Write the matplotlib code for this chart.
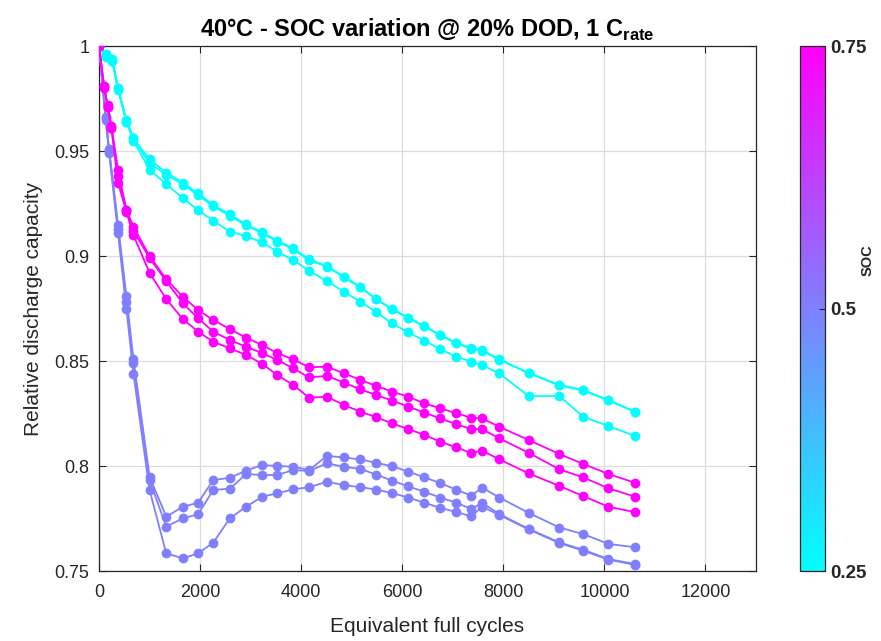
import matplotlib
matplotlib.use("Agg")
import matplotlib.pyplot as plt
import matplotlib.colors as mcolors
import numpy as np

plt.rcParams['font.family'] = ['Liberation Sans', 'DejaVu Sans']

# ciclos equivalentes (parte comum a todas as curvas)
cycles_tail = [1000, 1330, 1660, 1960, 2260, 2590, 2910, 3230, 3530, 3840, 4160,
               4510, 4850, 5170, 5490, 5800, 6120, 6440, 6750, 7070, 7370, 7580,
               7920, 8500, 9110, 9580, 10080, 10610]

# inicio de cada grupo de SOC
cycles_head_25 = [0, 130, 260, 376, 541, 680]
cycles_head_50 = [0, 130, 200, 376, 541, 680]
cycles_head_75 = [0, 100, 170, 245, 376, 541, 680]

# SOC 0.25 (ciano)
soc25_a = [1.0, 0.996, 0.994, 0.980, 0.965, 0.956,
           0.946, 0.9397, 0.9349, 0.9298, 0.9243, 0.9198, 0.9151, 0.9113, 0.9073, 0.9037, 0.8984,
           0.8952, 0.8901, 0.8854, 0.8795, 0.8748, 0.8706, 0.8667, 0.8624, 0.8587, 0.8560, 0.8552,
           0.8508, 0.8444, 0.8386, 0.8362, 0.8314, 0.8259]
soc25_b = [1.0, 0.996, 0.993, 0.979, 0.964, 0.955,
           0.941, 0.9343, 0.9275, 0.9219, 0.9168, 0.9116, 0.9095, 0.9065, 0.9021, 0.8981, 0.8930,
           0.8880, 0.8830, 0.8782, 0.8732, 0.8679, 0.8636, 0.8597, 0.8556, 0.8521, 0.8497, 0.8481,
           0.8441, 0.8333, 0.8333, 0.8235, 0.8190, 0.8143]
soc25_c = [1.0, 0.995, 0.993, 0.980, 0.964, 0.956,
           0.944, 0.9388, 0.9340, 0.9290, 0.9236, 0.9192, 0.9146, 0.9108, 0.9069, 0.9032, 0.8980,
           0.8950, 0.8898, 0.8851, 0.8793, 0.8746, 0.8704, 0.8665, 0.8622, 0.8585, 0.8558, 0.8550,
           0.8506, 0.8442, 0.8384, 0.8360, 0.8312, 0.8257]

# SOC 0.5 (lilas)
soc50_a = [1.0, 0.966, 0.951, 0.915, 0.881, 0.851,
           0.7949, 0.7759, 0.7806, 0.7825, 0.7933, 0.7944, 0.7978, 0.8005, 0.8000, 0.7997, 0.7981,
           0.8048, 0.8041, 0.8031, 0.8015, 0.7999, 0.7973, 0.7946, 0.7919, 0.7887, 0.7859, 0.7897,
           0.7850, 0.7777, 0.7707, 0.7676, 0.7629, 0.7613]
soc50_b = [1.0, 0.966, 0.950, 0.913, 0.878, 0.849,
           0.7933, 0.7711, 0.7751, 0.7770, 0.7886, 0.7892, 0.7962, 0.7957, 0.7957, 0.7981, 0.7976,
           0.8013, 0.7996, 0.7986, 0.7959, 0.7930, 0.7903, 0.7877, 0.7850, 0.7825, 0.7795, 0.7825,
           0.7771, 0.7701, 0.7636, 0.7601, 0.7557, 0.7533]
soc50_c = [1.0, 0.965, 0.949, 0.911, 0.875, 0.844,
           0.7886, 0.7584, 0.7560, 0.7584, 0.7635, 0.7751, 0.7806, 0.7854, 0.7870, 0.7889, 0.7899,
           0.7925, 0.7909, 0.7899, 0.7888, 0.7871, 0.7850, 0.7825, 0.7801, 0.7781, 0.7760, 0.7806,
           0.7767, 0.7698, 0.7633, 0.7597, 0.7554, 0.7529]

# SOC 0.75 (magenta)
soc75_a = [1.0, 0.981, 0.972, 0.962, 0.941, 0.922, 0.914,
           0.900, 0.8890, 0.8806, 0.8743, 0.8695, 0.8652, 0.8611, 0.8576, 0.8537, 0.8508, 0.8470,
           0.8473, 0.8441, 0.8410, 0.8381, 0.8354, 0.8330, 0.8298, 0.8275, 0.8251, 0.8230, 0.8227,
           0.8187, 0.8124, 0.8057, 0.8010, 0.7962, 0.7920]
soc75_b = [1.0, 0.981, 0.971, 0.961, 0.938, 0.922, 0.912,
           0.899, 0.8880, 0.8775, 0.8703, 0.8640, 0.8600, 0.8568, 0.8537, 0.8505, 0.8465, 0.8422,
           0.8429, 0.8397, 0.8365, 0.8338, 0.8311, 0.8283, 0.8254, 0.8227, 0.8199, 0.8176, 0.8175,
           0.8132, 0.8063, 0.7984, 0.7946, 0.7894, 0.7854]
soc75_c = [1.0, 0.980, 0.971, 0.961, 0.935, 0.921, 0.910,
           0.892, 0.8795, 0.8699, 0.8640, 0.8592, 0.8560, 0.8529, 0.8486, 0.8433, 0.8386, 0.8325,
           0.8330, 0.8290, 0.8259, 0.8232, 0.8203, 0.8176, 0.8148, 0.8116, 0.8089, 0.8061, 0.8073,
           0.8032, 0.7965, 0.7905, 0.7857, 0.7806, 0.7780]

soc_levels = [0.25, 0.5, 0.75]
groups = [
    (cycles_head_25, [soc25_a, soc25_b, soc25_c]),
    (cycles_head_50, [soc50_a, soc50_b, soc50_c]),
    (cycles_head_75, [soc75_a, soc75_b, soc75_c]),
]

cmap = plt.get_cmap('cool')
norm = mcolors.Normalize(vmin=0.25, vmax=0.75)

fig = plt.figure(figsize=(8.81, 6.41), dpi=100)
ax = fig.add_axes([0.1124, 0.1092, 0.7457, 0.8190])
cax = fig.add_axes([0.9085, 0.1092, 0.0284, 0.8190])

axis_gray = '#262626'

for soc, (head, curves) in zip(soc_levels, groups):
    x = head + cycles_tail
    col = cmap(norm(soc))
    for y in curves:
        ax.plot(x, y, '-o', color=col, lw=1.3, ms=6, mfc=col, mec=col, zorder=3)

ax.set_xlim(0, 13000)
ax.set_ylim(0.75, 1.0)
ax.set_xticks(np.arange(0, 13000, 2000))
ax.set_yticks([0.75, 0.8, 0.85, 0.9, 0.95, 1.0])
ax.set_yticklabels(['0.75', '0.8', '0.85', '0.9', '0.95', '1'])
ax.grid(True, color='#dcdcdc', lw=0.9)
ax.set_axisbelow(True)
ax.tick_params(direction='in', top=True, right=True, length=5, width=0.8,
               colors=axis_gray, labelsize=13)
ax.tick_params(axis='x', pad=9)
ax.tick_params(axis='y', pad=7)
for s in ax.spines.values():
    s.set_color(axis_gray)
    s.set_linewidth(0.9)

ax.set_xlabel('Equivalent full cycles', fontsize=15, color=axis_gray, labelpad=12)
ax.set_ylabel('Relative discharge capacity', fontsize=15, color=axis_gray, labelpad=8)
ax.set_title('40°C - SOC variation @ 20% DOD, 1 C$_{\\mathregular{rate}}$',
             fontsize=17, fontweight='bold', pad=7)

sm = matplotlib.cm.ScalarMappable(norm=norm, cmap=cmap)
cb = fig.colorbar(sm, cax=cax, ticks=[0.25, 0.5, 0.75])
cb.ax.set_yticklabels(['0.25', '0.5', '0.75'], fontweight='bold')
cb.ax.tick_params(direction='in', length=4, width=0.8, colors=axis_gray, labelsize=13.5)
cb.outline.set_edgecolor(axis_gray)
cb.outline.set_linewidth(0.9)
cb.set_label('SOC', fontsize=10.5, fontweight='bold', color=axis_gray)
cb.ax.yaxis.set_label_coords(2.42, 0.592)

fig.savefig('out.png', dpi=100)
